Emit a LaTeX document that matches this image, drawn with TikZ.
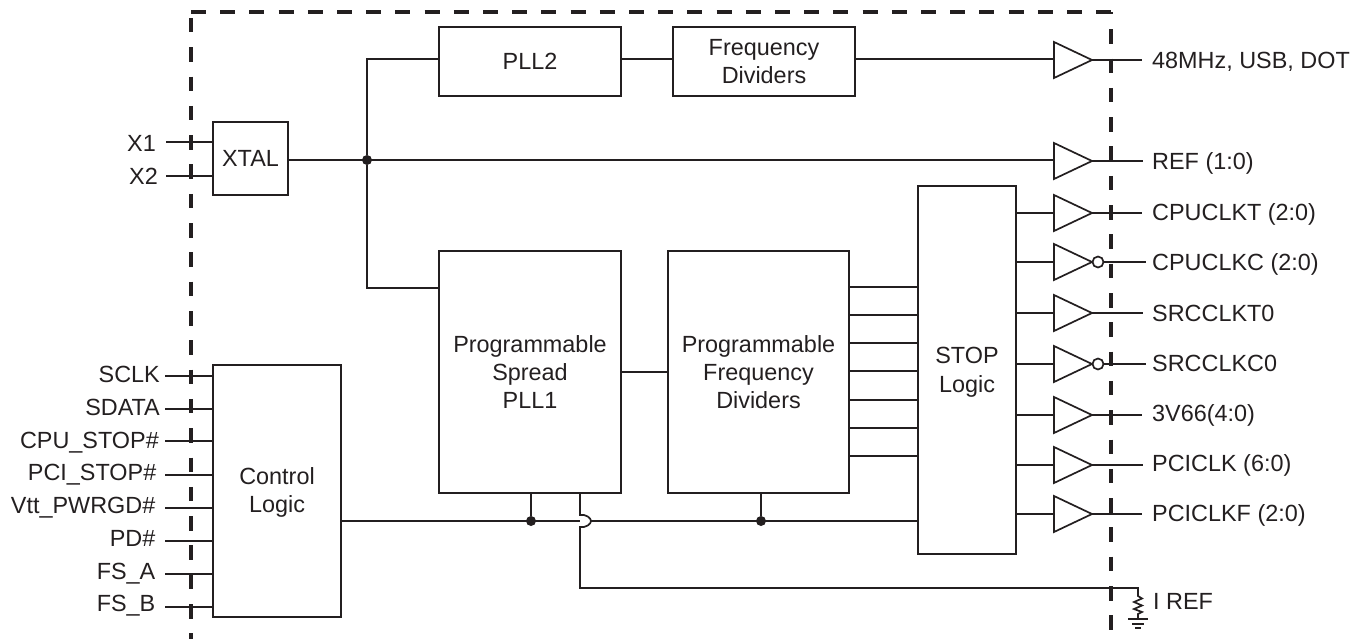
\documentclass[tikz,border=0pt]{standalone}
\usepackage{fontspec}
\setmainfont{Liberation Sans}
\usetikzlibrary{shapes.geometric}
\definecolor{ink}{HTML}{231F20}
\tikzset{
  wire/.style={draw=ink,line width=1.7pt},
  blockbox/.style={draw=ink,line width=2pt,rectangle,inner sep=0pt,outer sep=0pt,align=center,text=ink,text depth=0pt,font=\fontsize{23.4}{28}\selectfont},
  blocktext/.style={inner sep=0pt,align=center,text=ink,font=\fontsize{23.4}{29}\selectfont},
  boundary/.style={draw=ink,line width=3.1pt},
  buf/.style={draw=ink,line width=1.7pt,isosceles triangle,isosceles triangle apex angle=50,isosceles triangle stretches,minimum width=36pt,minimum height=38pt,inner sep=0pt,outer sep=0pt,anchor=lower side},
  bubble/.style={draw=ink,line width=1.7pt,circle,minimum size=11pt,inner sep=0pt,outer sep=0pt},
  lab/.style={text=ink,inner sep=0pt,yshift=-8.4pt,font=\fontsize{23.4}{28}\selectfont},
  dot/.style={circle,fill=ink,inner sep=0pt,minimum size=10pt}
}
\begin{document}
\begin{tikzpicture}[x=1pt,y=-1pt]
\useasboundingbox (0,0) rectangle (1364,639);
% boundary
\coordinate (bl) at (191,639);
\coordinate (tl) at (191,12);
\coordinate (tr) at (1111,12);
\coordinate (br) at (1111,639);
\draw[boundary,dash pattern=on 14.5pt off 14.8pt,dash phase=23.3pt] (tl) -- (bl);
\draw[boundary,dash pattern=on 15pt off 14.2pt] (tl) -- (tr);
\draw[boundary,dash pattern=on 14.5pt off 14.8pt,dash phase=12pt] (tr) -- (br);
% blocks
\node[blockbox,minimum width=182pt,minimum height=69pt] (pll2) at (530,61.3) {PLL2};
\node[blockbox,minimum width=182pt,minimum height=69pt] (fd2) at (764,61.3) {Frequency\\Dividers};
\node[blockbox,minimum width=75pt,minimum height=73pt] (xtal) at (250.5,158.5) {XTAL};
\node[blockbox,minimum width=182pt,minimum height=242pt] (pll1) at (530,372) {Programmable\\Spread\\PLL1};
\node[blockbox,minimum width=181pt,minimum height=242pt] (pfd) at (758.5,372) {Programmable\\Frequency\\Dividers};
\node[blockbox,minimum width=98pt,minimum height=367pt] (stop) at (967,370) {};
\node[blocktext] (stopt) at (967,372.5) {STOP\\Logic};
\node[blockbox,minimum width=128pt,minimum height=252pt] (ctrl) at (277,490.5) {Control\\Logic};
% left inputs
\foreach \n/\t/\x/\y/\w in {x1/X1/156/143/142,x2/X2/158/176/176}{
  \node[lab,anchor=base east] (\n) at (\x,\y) {\t};
  \coordinate (w\n) at (166,\w);
  \draw[wire] (w\n) -- (xtal.west |- w\n);
}
\foreach \n/\t/\x/\y/\w in {a/SCLK/160/374/376,b/SDATA/160/407/409,c/CPU\_STOP\#/159/440/441,d/PCI\_STOP\#/156.5/472/475,e/Vtt\_PWRGD\#/155.5/505/508,f/PD\#/155.5/538/541,g/FS\_A/155.5/571/574,h/FS\_B/155.5/603/607}{
  \node[lab,anchor=base east] (\n) at (\x,\y) {\t};
  \coordinate (w\n) at (165,\w);
  \draw[wire] (w\n) -- (ctrl.west |- w\n);
}
% buffers
\node[buf] (b0) at (1054,60) {};
\node[buf] (b1) at (1054,161) {};
\foreach \n/\y in {b2/213,b3/262,b4/313,b5/364,b6/415,b7/465,b8/514}{
  \node[buf] (\n) at (1054,\y) {};
  \draw[wire] (stop.east |- \n.lower side) -- (\n.lower side);
}
\node[bubble] (o3) at (1098,262) {};
\node[bubble] (o5) at (1098,364) {};
% junction + clock routing
\coordinate (ref) at (1054,160);
\coordinate (top) at (0,59);
\coordinate (toP) at (0,288);
\node[dot] (j0) at (367,160) {};
\draw[wire] (xtal.east |- ref) -- (ref);
\draw[wire] (pll2.west |- top) -| (j0) |- (pll1.west |- toP);
\draw[wire] (pll2.east |- top) -- (fd2.west |- top);
\draw[wire] (fd2.east |- top) -- (b0.lower side |- top);
% outputs
\foreach \n/\t/\y/\e in {b0/{48MHz, USB, DOT}/60/1142,b1/REF (1:0)/161/1143,b2/CPUCLKT (2:0)/212.5/1142,b4/SRCCLKT0/313/1143,b6/3V66(4:0)/413/1142,b7/PCICLK (6:0)/463/1143,b8/PCICLKF (2:0)/513/1142}{
  \node[lab,anchor=base west] (l\n) at (1152,\y) {\t};
  \coordinate (e\n) at (\e,0);
  \draw[wire] (\n.apex) -- (e\n |- \n.apex);
}
\foreach \n/\o/\t/\y in {b3/o3/CPUCLKC (2:0)/262,b5/o5/SRCCLKC0/363}{
  \node[lab,anchor=base west] (l\n) at (1152,\y) {\t};
  \coordinate (e\n) at (1146,0);
  \draw[wire] (\o.east) -- (e\n |- \o.east);
}
% PLL1 to dividers to stop
\draw[wire] (pll1.east) -- (pfd.west);
\foreach \y in {287,315,343,371,400,428,456}{
  \draw[wire] (pfd.east |- 0,\y) -- (stop.west |- 0,\y);
}
% control bus
\coordinate (busL) at (341,521);
\coordinate (hopA) at (580,521);
\coordinate (hopB) at (591,521);
\node[dot] (j1) at (531,521) {};
\node[dot] (j2) at (761,521) {};
\draw[wire] (ctrl.east |- busL) -- (hopA);
\draw[wire] (hopB) -- (stop.west |- hopB);
\draw[wire] (pll1.south -| j1) -- (j1);
\draw[wire] (pfd.south -| j2) -- (j2);
% IREF
\coordinate (rt) at (1138,588);
\coordinate (rb) at (1138,618);
\draw[wire] (pll1.south -| hopA) -- (580,515) .. controls (586,514) and (591,518) .. (hopB) .. controls (591,524) and (586,528) .. (580,527) -- (580,588) -- (rt) -- (1138,596)
  -- (1142,598.5) -- (1134,602) -- (1142,605.5) -- (1134,609) -- (1142,612) -- (1138,614) -- (rb);
\draw[wire] (1128,619) -- (1148,619);
\draw[wire] (1132,624) -- (1144,624);
\draw[wire] (1135,628) -- (1141,628);
\node[lab,anchor=base west] (iref) at (1153,601.5) {I REF};
\end{tikzpicture}
\end{document}
